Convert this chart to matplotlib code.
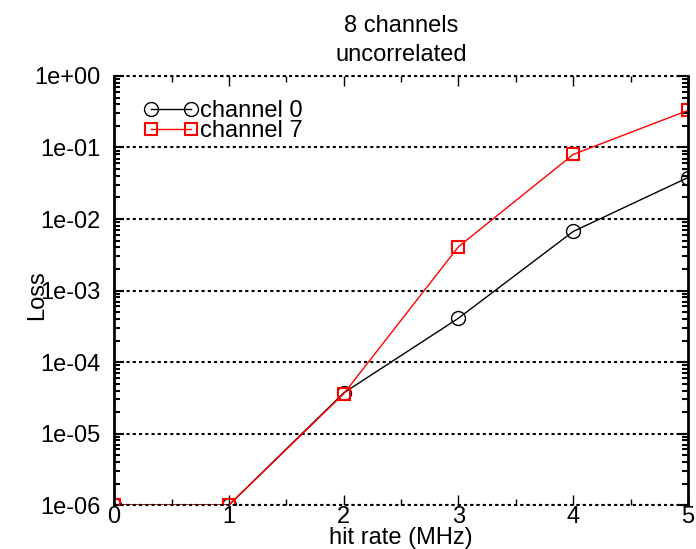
import matplotlib.pyplot as plt
from matplotlib.legend_handler import HandlerLine2D
from matplotlib.ticker import LogLocator, MultipleLocator, FixedLocator

plt.rcParams['font.family'] = ['Liberation Sans', 'DejaVu Sans']

# --- DATA ---
hit_rate = [0, 1, 2, 3, 4, 5]
loss_ch0 = [1e-6, 1e-6, 3.7e-5, 4.1e-4, 6.7e-3, 3.8e-2]
loss_ch7 = [1e-6, 1e-6, 3.6e-5, 4.1e-3, 8.0e-2, 3.3e-1]
ytick_vals = [1e-6, 1e-5, 1e-4, 1e-3, 1e-2, 1e-1, 1e0]
ytick_labels = ['1e-06', '1e-05', '1e-04', '1e-03', '1e-02', '1e-01', '1e+00']

FS = 17

fig = plt.figure(figsize=(6.96, 5.49), dpi=100)
ax = fig.add_axes([0.164, 0.080, 0.8245, 0.7816])

l0, = ax.plot(hit_rate, loss_ch0, color='black', lw=1, marker='o', ms=10,
              mfc='none', mec='black', mew=1, label='channel 0')
l7, = ax.plot(hit_rate, loss_ch7, color='red', lw=1, marker='s', ms=9,
              mfc='none', mec='red', mew=1.5, label='channel 7')

ax.set_yscale('log')
ax.set_xlim(0, 5)
ax.set_ylim(1e-6, 1)

ax.yaxis.set_major_locator(FixedLocator(ytick_vals))
ax.set_yticklabels(ytick_labels)
ax.yaxis.set_minor_locator(LogLocator(base=10, subs=range(2, 10), numticks=20))
ax.xaxis.set_major_locator(MultipleLocator(1))
ax.xaxis.set_minor_locator(MultipleLocator(0.5))

ax.tick_params(which='both', direction='in', top=True, right=True,
               labelsize=FS, width=1)
ax.tick_params(axis='x', pad=1)
ax.tick_params(axis='y', pad=10)
ax.tick_params(which='major', length=7)
ax.tick_params(which='minor', length=4)
ax.tick_params(axis='y', which='both', width=1.5)

# dotted horizontal grid, top/bottom borders drawn dotted like the grid
ax.grid(axis='y', which='major', color='black', ls=(0, (1.5, 1.5)), lw=1.5)
ax.spines['top'].set_visible(False)
ax.spines['bottom'].set_visible(False)
ax.spines['left'].set_linewidth(2)
ax.spines['right'].set_linewidth(2)
ax.axhline(1, color='black', ls=(0, (1.5, 1.5)), lw=1.5, clip_on=False)
ax.axhline(1e-6, color='black', ls=(0, (1.5, 1.5)), lw=1.5, clip_on=False)

ax.set_xlabel('hit rate (MHz)', fontsize=FS)
ax.xaxis.set_label_coords(0.5, -0.05)
ax.set_ylabel('Loss', fontsize=FS)
ax.yaxis.set_label_coords(-0.134, 0.49)
ax.yaxis.label.set_va('center')
ax.set_title('8 channels\nuncorrelated', fontsize=FS, linespacing=1.4, pad=11)

ax.legend(loc='upper left', frameon=False, fontsize=FS, handlelength=1.7,
          handletextpad=0.4, labelspacing=-0.07, numpoints=2,
          borderaxespad=0.0, bbox_to_anchor=(0.0475, 0.966),
          handler_map={l0: HandlerLine2D(marker_pad=0),
                       l7: HandlerLine2D(marker_pad=0)})

fig.savefig('out.png', dpi=100)
